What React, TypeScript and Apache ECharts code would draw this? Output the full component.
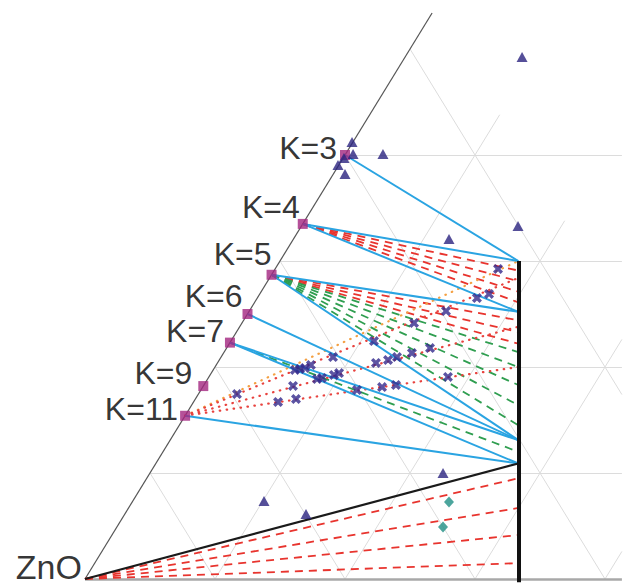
import React, { useEffect, useRef } from "react";
import * as echarts from "echarts";

// Composition plane: u = position along the ZnO base, v = height (both in grid divisions).
// Points on the ZnO–apex edge satisfy u = v / 2.
const K_LABELS = ["K=3", "K=4", "K=5", "K=6", "K=7", "K=9", "K=11"];
const K_HEIGHTS = [4.0, 3.35, 2.87, 2.5, 2.23, 1.82, 1.54];

// thick vertical join and its top
const JOIN_U = 10 / 3;
const JOIN_TOP = 3.0;

// tie lines: [start phase, height where it meets the vertical join]
const BLUE_TIES: [string, number][] = [
  ["K=3", 3.0], ["K=4", 3.0], ["K=4", 2.52], ["K=5", 2.52], ["K=5", 1.31],
  ["K=6", 1.31], ["K=7", 1.31], ["K=7", 1.09], ["K=11", 1.09],
];
const BLACK_TIES: [string, number][] = [["ZnO", 1.09]];
const RED_DASH_TIES: [string, number][] = [
  ["K=4", 2.91], ["K=4", 2.81], ["K=4", 2.71], ["K=4", 2.61],
  ["K=5", 2.44], ["K=5", 2.33], ["K=5", 2.22],
  ["ZnO", 0.95], ["ZnO", 0.67], ["ZnO", 0.415], ["ZnO", 0.15],
];
const GREEN_DASH_TIES: [string, number][] = [
  ["K=5", 2.14], ["K=5", 2.0], ["K=5", 1.83], ["K=5", 1.64], ["K=5", 1.45],
  ["K=7", 1.2],
];
const ORANGE_DOT_TIES: [string, number][] = [["K=11", 3.0]];
const RED_DOT_TIES: [string, number][] = [["K=11", 2.84], ["K=11", 2.38], ["K=11", 2.0]];

// measured samples [u, v]
const CROSS_POINTS: [number, number][] = [
  [1.169, 1.745], [1.485, 1.67], [1.6, 1.821], [1.623, 1.698], [1.615, 1.972],
  [1.654, 1.981], [1.692, 1.991], [1.738, 2.019], [1.785, 1.887], [1.823, 1.896],
  [1.908, 2.094], [1.915, 1.925], [1.954, 1.943], [2.092, 1.783], [2.285, 1.811],
  [2.392, 1.83], [2.223, 2.245], [2.238, 2.038], [2.331, 2.066], [2.4, 2.094],
  [2.515, 2.132], [2.654, 2.179], [2.531, 2.415], [2.777, 2.528], [2.792, 1.906],
  [3.015, 2.651], [3.108, 2.689], [3.177, 2.925],
];
const TRIANGLE_POINTS: [number, number][] = [
  [3.362, 4.925], [2.054, 4.123], [2.062, 4.009], [2.292, 4.009], [1.946, 3.906],
  [2.0, 3.821], [1.992, 3.972], [3.331, 3.33], [2.8, 3.208], [2.754, 1.0],
  [1.377, 0.736], [1.7, 0.613],
];
const DIAMOND_POINTS: [number, number][] = [[2.8, 0.726], [2.754, 0.49]];

// layout constants
const W = 641;
const H = 586;
const ORIGIN_PX = [85, 579];
const UNIT_PX = [130, 106];
const EDGE_TOP_V = 5.34;
const CROP_U = 4.13;
const RIGHT_EDGE_C = 5.38;
const K_LABEL_OFFSETS: [number, number][] = [
  [-3, -7], [2, -16.5], [5, -21], [0, -18.5], [-1, -12], [-6, -13.5], [-2, -7],
];

function anchor(name: string): [number, number] {
  if (name === "ZnO") return [0, 0];
  const h = K_HEIGHTS[K_LABELS.indexOf(name)];
  return [h / 2, h];
}

function tieData(ties: [string, number][]) {
  return ties.map(([from, v]) => ({ coords: [anchor(from), [JOIN_U, v]] }));
}

function gridSegments() {
  const segs: { coords: number[][] }[] = [];
  for (let k = 1; k <= 4; k++) segs.push({ coords: [[k / 2, k], [CROP_U, k]] });
  for (let c = 1; c <= 5; c++) {
    let end = [c, 0];
    if (c > CROP_U) end = [CROP_U, 2 * (c - CROP_U)];
    segs.push({ coords: [[c / 2, c], end] });
  }
  for (let c = 1; c <= 4; c++) {
    let vEnd = RIGHT_EDGE_C - c;
    let uEnd = c + vEnd / 2;
    if (uEnd > CROP_U) {
      vEnd = 2 * (CROP_U - c);
      uEnd = CROP_U;
    }
    segs.push({ coords: [[c, 0], [uEnd, vEnd]] });
  }
  return segs;
}

function linesSeries(data: any[], color: string, width: number, type: any, z: number, cap = "butt") {
  return {
    type: "lines",
    coordinateSystem: "cartesian2d",
    polyline: false,
    silent: true,
    z,
    data,
    lineStyle: { color, width, type, opacity: 1, cap },
  };
}

const FONT = "'Liberation Sans', Arial, Helvetica, sans-serif";
const X_SYMBOL =
  "path://M2.4,0 L5,2.6 L7.6,0 L10,2.4 L7.4,5 L10,7.6 L7.6,10 L5,7.4 L2.4,10 L0,7.6 L2.6,5 L0,2.4 Z";

export default function App() {
  const ref = useRef<HTMLDivElement>(null);
  useEffect(() => {
    document.body.style.margin = "0";
    if (!ref.current) return;
    const chart = echarts.init(ref.current, undefined, { renderer: "svg" });
    const xMin = -ORIGIN_PX[0] / UNIT_PX[0];
    const xMax = (W - ORIGIN_PX[0]) / UNIT_PX[0];
    const yMin = (ORIGIN_PX[1] - H) / UNIT_PX[1];
    const yMax = ORIGIN_PX[1] / UNIT_PX[1];
    chart.setOption({
      animation: false,
      backgroundColor: "#ffffff",
      grid: { left: 0, right: 0, top: 0, bottom: 0, containLabel: false },
      xAxis: { type: "value", min: xMin, max: xMax, show: false },
      yAxis: { type: "value", min: yMin, max: yMax, show: false },
      series: [
        linesSeries(gridSegments(), "#dcdcdc", 1, "solid", 1),
        linesSeries([{ coords: [[0, 0], [CROP_U, 0]] }], "#a8a8a8", 2.5, "solid", 2),
        linesSeries([{ coords: [[0, 0], [EDGE_TOP_V / 2, EDGE_TOP_V]] }], "#555555", 1.2, "solid", 2),
        linesSeries(tieData(RED_DASH_TIES), "#e8342e", 1.8, [8, 6], 3),
        linesSeries(tieData(GREEN_DASH_TIES), "#2f9e50", 1.8, [8, 6], 3),
        linesSeries(tieData(ORANGE_DOT_TIES), "#f4a042", 2.2, [0.5, 6.5], 3, "round"),
        linesSeries(tieData(RED_DOT_TIES), "#e8423e", 2.2, [0.5, 6.5], 3, "round"),
        linesSeries(tieData(BLUE_TIES), "#2aa4e2", 2, "solid", 4),
        linesSeries(tieData(BLACK_TIES), "#1a1a1a", 2.2, "solid", 5),
        linesSeries([{ coords: [[JOIN_U, JOIN_TOP], [JOIN_U, -0.03]] }], "#111111", 4, "solid", 5),
        {
          type: "scatter",
          z: 10,
          silent: true,
          symbol: "rect",
          symbolSize: 10,
          itemStyle: { color: "#a3267f" },
          label: {
            show: true,
            position: "left",
            distance: 0,
            formatter: "{b}",
            fontSize: 32,
            lineHeight: 24,
            color: "#000000",
            fontFamily: FONT,
          },
          data: K_LABELS.map((name, i) => ({
            name,
            value: anchor(name),
            label: { offset: K_LABEL_OFFSETS[i] },
          })),
        },
        {
          type: "scatter",
          z: 11,
          silent: true,
          symbol: "circle",
          symbolSize: 0.1,
          itemStyle: { color: "transparent" },
          label: {
            show: true,
            position: "left",
            distance: 0,
            offset: [-3, -12],
            formatter: "{b}",
            fontSize: 34,
            lineHeight: 26,
            color: "#000000",
            fontFamily: FONT,
          },
          data: [{ name: "ZnO", value: anchor("ZnO") }],
        },
        {
          type: "scatter",
          z: 12,
          silent: true,
          symbol: "triangle",
          symbolSize: [11, 10],
          itemStyle: { color: "#2b2380" },
          data: TRIANGLE_POINTS,
        },
        {
          type: "scatter",
          z: 12,
          silent: true,
          symbol: X_SYMBOL,
          symbolSize: 10,
          itemStyle: { color: "#33298c" },
          data: CROSS_POINTS,
        },
        {
          type: "scatter",
          z: 12,
          silent: true,
          symbol: "diamond",
          symbolSize: [10, 11],
          itemStyle: { color: "#1f8f84" },
          data: DIAMOND_POINTS,
        },
      ],
    });
    return () => chart.dispose();
  }, []);
  return <div ref={ref} style={{ width: W, height: H }} />;
}
